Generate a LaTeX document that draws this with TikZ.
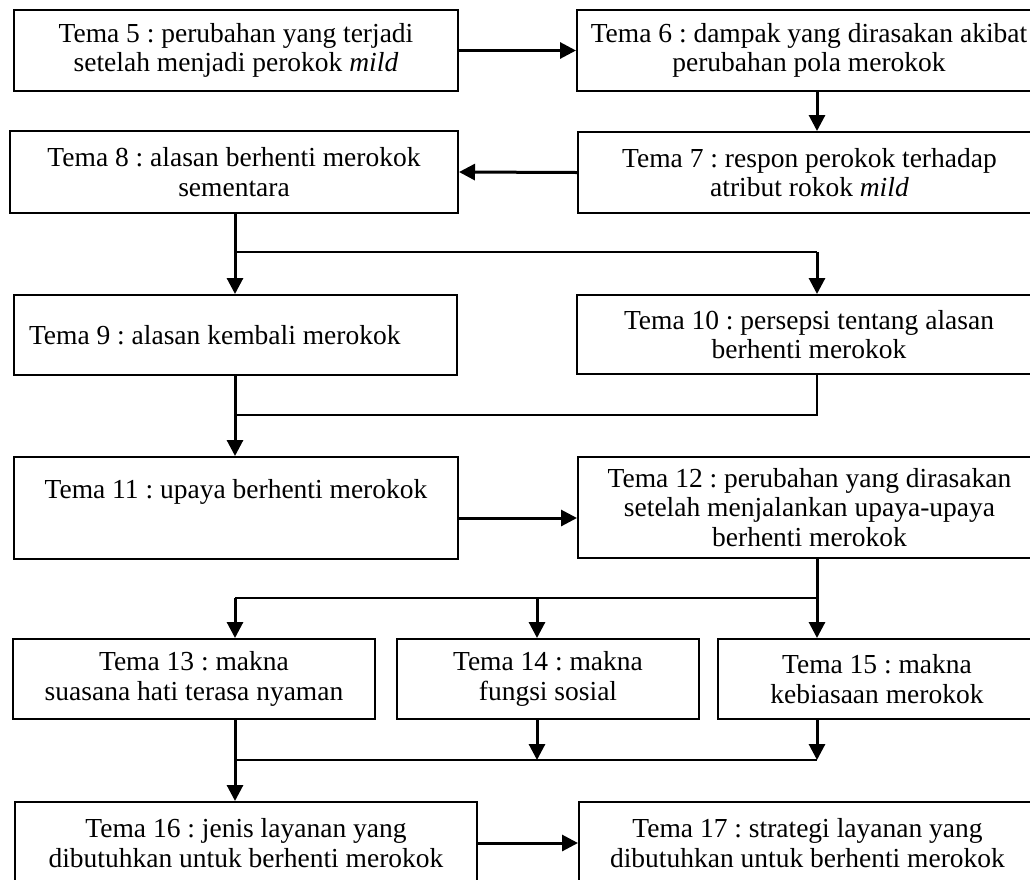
\documentclass[tikz,border=0pt]{standalone}
\usepackage{fontspec}
\setmainfont{Liberation Serif}
\usetikzlibrary{arrows.meta}
\frenchspacing
\begin{document}
\begin{tikzpicture}[x=1pt,y=-1pt,
  box/.style={draw, line width=2pt, inner sep=0pt, anchor=north west, align=center,
    font=\fontsize{27.5}{29.5}\selectfont\frenchspacing},
  arr/.style={line width=3pt, -{Triangle[length=16pt,width=16pt]}},
  thn/.style={line width=1.5pt}]
\useasboundingbox (0,0) rectangle (1030,879);
\clip (0,0) rectangle (1030,879);
\node[box, minimum width=444pt, minimum height=81pt] (t5) at (13,9) {Tema 5 : perubahan yang terjadi\\setelah menjadi perokok \textit{mild}};
\node[box, minimum width=464pt, minimum height=81pt] (t6) at (576,9) {Tema 6 : dampak yang dirasakan akibat\\perubahan pola merokok};
\node[box, minimum width=448pt, minimum height=82pt] (t8) at (9,130) {Tema 8 : alasan berhenti merokok\\sementara};
\node[box, minimum width=463pt, minimum height=81pt] (t7) at (577,131) {Tema 7 : respon perokok terhadap\\atribut rokok \textit{mild}};
\node[box, align=flush left, inner xsep=15pt, text width=413pt, minimum height=80pt] (t9) at (13,294) {Tema 9 : alasan kembali merokok};
\node[box, minimum width=464pt, minimum height=79pt] (t10) at (576,294) {Tema 10 : persepsi tentang alasan\\berhenti merokok};
\node[box, minimum width=444pt, minimum height=102pt] (t11) at (13,456) {Tema 11 : upaya berhenti merokok\\ \strut};
\node[box, minimum width=463pt, minimum height=101pt] (t12) at (577,456) {Tema 12 : perubahan yang dirasakan\\setelah menjalankan upaya-upaya\\berhenti merokok};
\node[box, minimum width=362pt, minimum height=80pt] (t13) at (12,638) {Tema 13 : makna\\suasana hati terasa nyaman};
\node[box, minimum width=302pt, minimum height=80pt] (t14) at (396,638) {Tema 14 : makna\\fungsi sosial};
\node[box, minimum width=318pt, minimum height=80pt] (t15) at (717,638) {Tema 15 : makna\\kebiasaan merokok};
\node[box, minimum width=462pt, minimum height=82pt] (t16) at (14,801) {Tema 16 : jenis layanan yang\\dibutuhkan untuk berhenti merokok};
\node[box, minimum width=457pt, minimum height=82pt] (t17) at (578,801) {Tema 17 : strategi layanan yang\\dibutuhkan untuk berhenti merokok};
\coordinate (xl) at (235,0);
\coordinate (xm) at (537,0);
\coordinate (xr) at (817,0);
\coordinate (j1) at (235,252);
\coordinate (j2) at (235,415);
\coordinate (j3) at (817,598);
\coordinate (j4) at (235,760);
\draw[arr] (t5.east) -- (t6.west);
\draw[arr] (t6.south -| xr) -- (t7.north -| xr);
\draw[arr] (t7.west) -- (t8.east);
\draw[arr] (t8.south -| xl) -- (t9.north -| xl);
\draw[thn] (j1) -- (j1 -| xr);
\draw[arr] (j1 -| xr) -- (t10.north -| xr);
\draw[arr] (t9.south -| xl) -- (t11.north -| xl);
\draw[thn] (t10.south -| xr) -- (j2 -| xr) -- (j2);
\draw[arr] ([yshift=-10pt]t11.east) -- ([yshift=-10pt]t11.east -| t12.west);
\draw[arr] (t12.south -| xr) -- (t15.north -| xr);
\draw[thn] (j3) -- (j3 -| xl);
\draw[arr] (j3 -| xl) -- (t13.north -| xl);
\draw[arr] (j3 -| xm) -- (t14.north -| xm);
\draw[arr] (t13.south -| xl) -- (t16.north -| xl);
\draw[arr] (t14.south -| xm) -- (j4 -| xm);
\draw[arr] (t15.south -| xr) -- (j4 -| xr);
\draw[thn] (j4) -- (j4 -| xr);
\draw[arr] (t16.east) -- (t16.east -| t17.west);
\end{tikzpicture}
\end{document}
